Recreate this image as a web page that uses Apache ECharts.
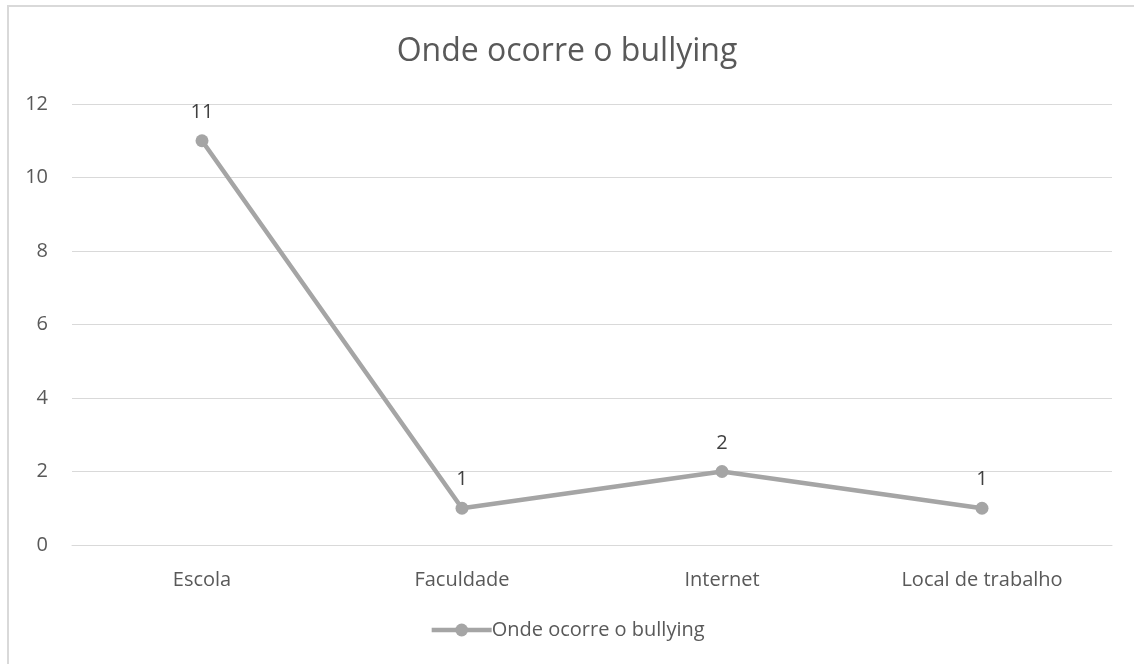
<!DOCTYPE html>
<html>
<head>
<meta charset="utf-8">
<script src="https://cdn.jsdelivr.net/npm/echarts@6/dist/echarts.min.js"></script>
<style>
  html, body { margin: 0; padding: 0; background: #ffffff; }
  #chart { width: 1134px; height: 664px; }
</style>
</head>
<body>
<div id="chart"></div>
<script>
// Where bullying happens: number of answers per place
const categories = ['Escola', 'Faculdade', 'Internet', 'Local de trabalho'];
const counts = [11, 1, 2, 1];
const yTicks = { min: 0, max: 12, interval: 2 };
const seriesName = 'Onde ocorre o bullying';
const titleText = 'Onde ocorre o bullying';

const FONT = '"Open Sans", "Noto Sans", sans-serif';
const GREY = '#A5A5A5';

const chart = echarts.init(document.getElementById('chart'), null, { renderer: 'canvas' });

chart.setOption({
  animation: false,
  backgroundColor: '#ffffff',
  textStyle: { fontFamily: FONT },
  graphic: [{
    type: 'rect',
    shape: { x: 8, y: 6, width: 1200, height: 700 },
    style: { fill: 'none', stroke: '#d9d9d9', lineWidth: 2 },
    silent: true,
    z: -1
  }],
  title: {
    text: titleText,
    left: 'center',
    top: 31,
    textStyle: { fontFamily: FONT, fontSize: 32, fontWeight: 'normal', color: '#595959' }
  },
  legend: {
    bottom: 19,
    left: 'center',
    data: [seriesName],
    itemWidth: 60,
    itemHeight: 16,
    itemGap: 0,
    lineStyle: { width: 4.5, color: GREY },
    textStyle: { fontFamily: FONT, fontSize: 20, color: '#595959', padding: [0, 0, 0, -5] }
  },
  grid: { left: 72, right: 22, top: 104, bottom: 119, containLabel: false },
  xAxis: {
    type: 'category',
    data: categories,
    boundaryGap: true,
    axisLine: { show: true, lineStyle: { color: '#d9d9d9', width: 1 } },
    axisTick: { show: false },
    axisLabel: { fontFamily: FONT, fontSize: 20, color: '#595959', margin: 25 }
  },
  yAxis: {
    type: 'value',
    min: yTicks.min,
    max: yTicks.max,
    interval: yTicks.interval,
    axisLine: { show: false },
    axisTick: { show: false },
    splitLine: { lineStyle: { color: '#d9d9d9', width: 1 } },
    axisLabel: { fontFamily: FONT, fontSize: 20, color: '#595959', margin: 24 }
  },
  series: [{
    name: seriesName,
    type: 'line',
    data: counts,
    symbol: 'circle',
    symbolSize: 13,
    lineStyle: { color: GREY, width: 4.5 },
    itemStyle: { color: GREY },
    label: {
      show: true,
      position: 'top',
      distance: 12,
      fontFamily: FONT,
      fontSize: 20,
      color: '#404040'
    }
  }]
});
</script>
</body>
</html>
